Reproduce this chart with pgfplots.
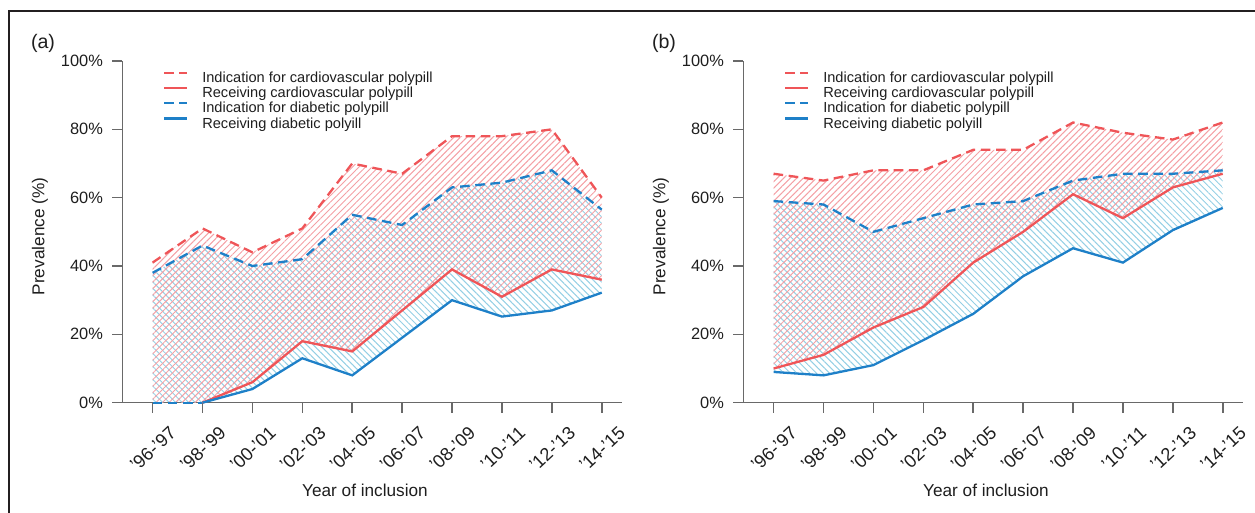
\documentclass[border=0pt]{standalone}
\usepackage{fontspec}
\setmainfont{Liberation Sans}
\usepackage{pgfplots}
\pgfplotsset{compat=1.18}
\usepgfplotslibrary{fillbetween}
\usetikzlibrary{patterns.meta}
\definecolor{cvred}{RGB}{239,85,88}
\definecolor{dmblue}{RGB}{30,128,200}
\definecolor{hred}{RGB}{244,160,165}
\definecolor{hblue}{RGB}{148,207,228}
\definecolor{axgray}{RGB}{105,105,105}
\definecolor{txt}{RGB}{30,30,30}
\definecolor{frame}{RGB}{35,31,32}
\pgfplotsset{
  panel/.style={
    scale only axis, width=249.7pt, height=170.85pt,
    anchor=south west,
    xmin=-0.607, xmax=9.40, ymin=0, ymax=100,
    axis x line*=bottom, axis y line*=left,
    axis line style={axgray, line width=0.8pt},
    every tick/.style={axgray, line width=0.8pt},
    tick align=outside, major tick length=5pt,
    xtick={0,...,9},
    xticklabels={'96-'97,'98-'99,'00-'01,'02-'03,'04-'05,'06-'07,'08-'09,'10-'11,'12-'13,'14-'15},
    ytick={0,20,...,100},
    yticklabels={0\%,20\%,40\%,60\%,80\%,100\%},
    ticklabel style={font=\fontsize{8.2}{9.5}\selectfont, text=txt},
    xticklabel style={font=\fontsize{9.1}{10}\selectfont, rotate=43, anchor=east, inner sep=0pt, xshift=1.7pt, yshift=-13.3pt},
    yticklabel style={anchor=east, inner sep=0pt, xshift=-4.5pt},
    clip=false,
    legend style={draw=none, fill=none, inner sep=0pt, outer sep=0pt,
      at={(0.0815,0.973)}, anchor=north west,
      nodes={inner sep=0pt, text height=6pt, text depth=1.65pt, font=\fontsize{7.3}{8}\selectfont, text=txt},
      row sep=0pt, column sep=7pt},
    legend cell align=left,
    legend image code/.code={\draw[#1] (0pt,2.6pt) -- (11.5pt,2.6pt);},
  },
  icv/.style={cvred, line width=1.15pt, dash pattern=on 4.8pt off 2.8pt},
  rcv/.style={cvred, line width=1.15pt},
  idm/.style={dmblue, line width=1.15pt, dash pattern=on 4.8pt off 2.8pt},
  rdm/.style={dmblue, line width=1.15pt},
  hatchred/.style={draw=none, pattern={Lines[angle=45,distance=2.3pt,line width=0.5pt]}, pattern color=hred},
  hatchblue/.style={draw=none, pattern={Lines[angle=-45,distance=2.3pt,line width=0.5pt]}, pattern color=hblue},
}
\begin{document}
\begin{tikzpicture}
\draw[frame, line width=1.3pt] (4.5pt,-1pt) -- (4.5pt,251pt) -- (629pt,251pt);
% ---------------- panel (a)
\begin{axis}[panel, at={(61.15pt,55.15pt)}]
\addplot[draw=none, name path=aicv, forget plot] coordinates {(0,41)(1,51)(2,44)(3,51)(4,70)(5,67)(6,78)(7,78)(8,80)(9,60)};
\addplot[draw=none, name path=arcv, forget plot] coordinates {(0,0)(1,0)(2,6)(3,18)(4,15)(5,27)(6,39)(7,31)(8,39)(9,36)};
\addplot[draw=none, name path=aidm, forget plot] coordinates {(0,38)(1,46)(2,40)(3,42)(4,55)(5,52)(6,63)(7,64.4)(8,68)(9,56.5)};
\addplot[draw=none, name path=ardm, forget plot] coordinates {(0,0)(1,0)(2,4)(3,13)(4,8)(5,19)(6,30)(7,25.2)(8,27)(9,32.2)};
\addplot[hatchblue, forget plot] fill between[of=aidm and ardm];
\addplot[hatchred, forget plot] fill between[of=aicv and arcv];
\addplot[icv] coordinates {(0,41)(1,51)(2,44)(3,51)(4,70)(5,67)(6,78)(7,78)(8,80)(9,60)};
\addlegendentry{Indication for cardiovascular polypill}
\addplot[rcv] coordinates {(1,0)(2,6)(3,18)(4,15)(5,27)(6,39)(7,31)(8,39)(9,36)};
\addlegendentry{Receiving cardiovascular polypill}
\addplot[idm] coordinates {(0,38)(1,46)(2,40)(3,42)(4,55)(5,52)(6,63)(7,64.4)(8,68)(9,56.5)};
\addlegendentry{Indication for diabetic polypill}
\addplot[rdm] coordinates {(1,0)(2,4)(3,13)(4,8)(5,19)(6,30)(7,25.2)(8,27)(9,32.2)};
\addlegendentry{Receiving diabetic polyill}
\addplot[idm, forget plot] coordinates {(0,0)(1,0)};
\end{axis}
% ---------------- panel (b)
\begin{axis}[panel, at={(371.65pt,55.15pt)}]
\addplot[draw=none, name path=bicv, forget plot] coordinates {(0,67)(1,65)(2,68)(3,68)(4,74)(5,74)(6,82)(7,79)(8,77)(9,82)};
\addplot[draw=none, name path=brcv, forget plot] coordinates {(0,10)(1,14)(2,22)(3,28)(4,41)(5,50)(6,61)(7,54)(8,63)(9,67)};
\addplot[draw=none, name path=bidm, forget plot] coordinates {(0,59)(1,58)(2,50)(3,54)(4,58)(5,59)(6,65)(7,67)(8,67)(9,68)};
\addplot[draw=none, name path=brdm, forget plot] coordinates {(0,9)(1,8)(2,11)(3,18.3)(4,26)(5,37)(6,45.2)(7,41)(8,50.5)(9,57)};
\addplot[hatchblue, forget plot] fill between[of=bidm and brdm];
\addplot[hatchred, forget plot] fill between[of=bicv and brcv];
\addplot[icv] coordinates {(0,67)(1,65)(2,68)(3,68)(4,74)(5,74)(6,82)(7,79)(8,77)(9,82)};
\addlegendentry{Indication for cardiovascular polypill}
\addplot[rcv] coordinates {(0,10)(1,14)(2,22)(3,28)(4,41)(5,50)(6,61)(7,54)(8,63)(9,67)};
\addlegendentry{Receiving cardiovascular polypill}
\addplot[idm] coordinates {(0,59)(1,58)(2,50)(3,54)(4,58)(5,59)(6,65)(7,67)(8,67)(9,68)};
\addlegendentry{Indication for diabetic polypill}
\addplot[rdm] coordinates {(0,9)(1,8)(2,11)(3,18.3)(4,26)(5,37)(6,45.2)(7,41)(8,50.5)(9,57)};
\addlegendentry{Receiving diabetic polyill}
\end{axis}
% ---------------- titles
\node[font=\fontsize{9.8}{11}\selectfont, text=txt] at (21.5pt,235pt) {(a)};
\node[font=\fontsize{9.8}{11}\selectfont, text=txt] at (332pt,235pt) {(b)};
\node[font=\fontsize{8.6}{10}\selectfont, text=txt, rotate=90] at (20pt,138.25pt) {Prevalence (\%)};
\node[font=\fontsize{8.6}{10}\selectfont, text=txt, rotate=90] at (330.5pt,138.25pt) {Prevalence (\%)};
\node[font=\fontsize{8.6}{10}\selectfont, text=txt] at (182.5pt,11.5pt) {Year of inclusion};
\node[font=\fontsize{8.6}{10}\selectfont, text=txt] at (493pt,11.5pt) {Year of inclusion};
\pgfresetboundingbox
\path[use as bounding box] (0,0) rectangle (627.5pt,256.5pt);
\end{tikzpicture}
\end{document}
